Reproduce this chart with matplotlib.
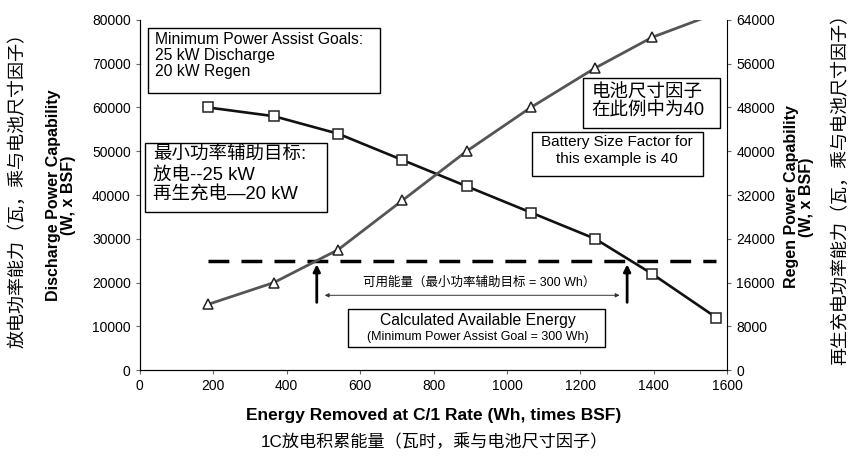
import matplotlib.pyplot as plt
from matplotlib.patches import Rectangle

plt.rcParams['font.family'] = ['Liberation Sans', 'Noto Sans CJK SC', 'DejaVu Sans']

# energy removed (Wh x BSF)
energy = [185, 365, 540, 715, 890, 1065, 1240, 1395, 1570]
discharge = [60000, 58000, 54000, 48000, 42000, 36000, 30000, 22000, 12000]
regen = [12000, 16000, 22000, 31000, 40000, 48000, 55200, 60800, 65200]
goal_discharge = 25000
avail_lo, avail_hi = 482, 1327

fig = plt.figure(figsize=(8.68, 4.61), dpi=100)
ax = fig.add_axes([0.161, 0.197, 0.677, 0.76])
ax2 = ax.twinx()

ax.plot(energy, discharge, color='#111111', lw=1.9, marker='s', ms=6.5,
        mfc='white', mec='#222222', mew=1.1, zorder=3)
ax2.plot(energy, regen, color='#555555', lw=2.0, marker='^', ms=7,
         mfc='white', mec='#222222', mew=1.1, zorder=3)

ax.plot([energy[0], energy[-1]], [goal_discharge, goal_discharge], color='black',
        lw=2.5, dashes=(6, 3.5), zorder=4)

ax.set_xlim(0, 1600)
ax.set_ylim(0, 80000)
ax2.set_ylim(0, 64000)
ax.set_xticks(range(0, 1601, 200))
ax.set_yticks(range(0, 80001, 10000))
ax2.set_yticks(range(0, 64001, 8000))
for a in (ax, ax2):
    a.tick_params(labelsize=10, length=3, color='#666666')
    a.spines['top'].set_visible(False)
ax.spines['right'].set_visible(False)


def box(x0, y0, x1, y1):
    # plain rectangle in axes fraction
    ax.add_patch(Rectangle((x0, y0), x1 - x0, y1 - y0, transform=ax.transAxes,
                           fc='white', ec='black', lw=1, zorder=5))


# arrows
for xv in (avail_lo, avail_hi):
    ax.annotate('', xy=(xv, 24800), xytext=(xv, 14850),
                arrowprops=dict(arrowstyle='-|>', color='black', lw=2, mutation_scale=10))
ax.annotate('', xy=(496, 17100), xytext=(1314, 17100),
            arrowprops=dict(arrowstyle='<|-|>', color='#333333', lw=0.7, mutation_scale=6))
ax.text(925, 19900, '可用能量（最小功率辅助目标 = 300 Wh）', ha='center', va='center', fontsize=9)

box(0.354, 0.066, 0.792, 0.174)
ax.text(920, 11400, 'Calculated Available Energy', ha='center', va='center', fontsize=11.3,
        zorder=6)
ax.text(920, 7500, '(Minimum Power Assist Goal = 300 Wh)', ha='center', va='center',
        fontsize=9, zorder=6)

box(0.0136, 0.791, 0.409, 0.977)
ax.text(41, 77200, 'Minimum Power Assist Goals:\n25 kW Discharge\n20 kW Regen',
        ha='left', va='top', fontsize=11.3, linespacing=1.08, zorder=6)

box(0.0085, 0.451, 0.3186, 0.649)
ax.text(36, 51000, '最小功率辅助目标:\n放电--25 kW\n再生充电—20 kW',
        ha='left', va='top', fontsize=13.3, linespacing=1.2, zorder=6)

box(0.7547, 0.691, 0.988, 0.834)
ax.text(1230, 61300, '电池尺寸因子\n在此例中为40', ha='left', va='center', fontsize=13.3,
        linespacing=1.05, zorder=6)

box(0.6678, 0.554, 0.9591, 0.68)
ax.text(1300, 50170, 'Battery Size Factor for\nthis example is 40', ha='center', va='center',
        fontsize=11, linespacing=1.2, zorder=6)

ax.set_xlabel('Energy Removed at C/1 Rate (Wh, times BSF)', fontsize=12.5, fontweight='bold',
              labelpad=11)
fig.text(0.5, 0.045, '1C放电积累能量（瓦时，乘与电池尺寸因子）', ha='center', va='center',
         fontsize=12.3)
fig.text(0.070, 0.577, 'Discharge Power Capability\n(W, x BSF)', rotation=90, ha='center',
         va='center', fontsize=11.5, fontweight='bold', linespacing=1.0)
fig.text(0.02, 0.596, '放电功率能力（瓦，乘与电池尺寸因子）', rotation=90, ha='center',
         va='center', fontsize=13)
fig.text(0.921, 0.573, 'Regen Power Capability\n(W, x BSF)', rotation=90, ha='center',
         va='center', fontsize=11.5, fontweight='bold', linespacing=1.0)
fig.text(0.968, 0.598, '再生充电功率能力（瓦，乘与电池尺寸因子）', rotation=90, ha='center',
         va='center', fontsize=13)

fig.savefig('out.png', dpi=100)
